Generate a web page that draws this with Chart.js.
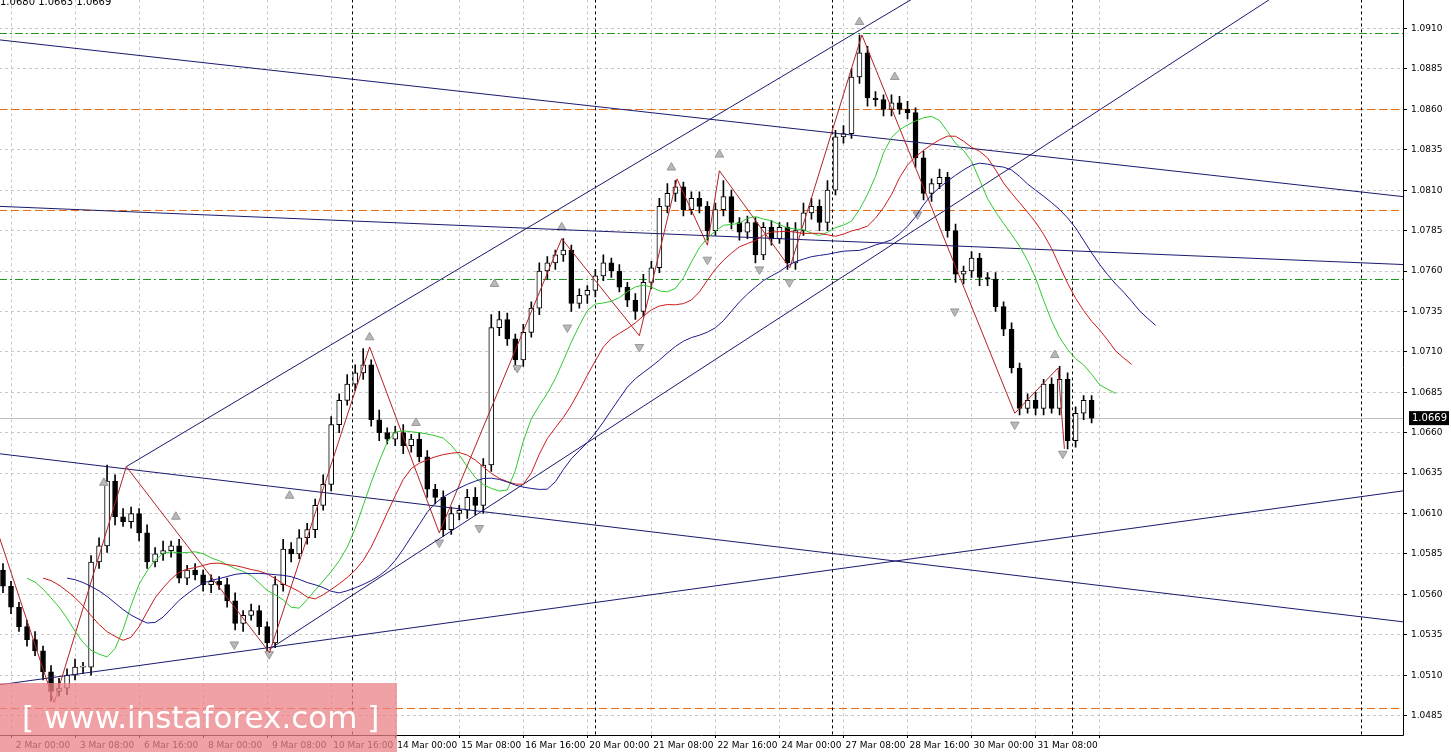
<!DOCTYPE html>
<html>
<head>
<meta charset="utf-8">
<script src="https://cdn.jsdelivr.net/npm/chart.js@4.4.1/dist/chart.umd.min.js"></script>
<style>
    body { margin: 0; background: #fff; overflow: hidden; }
    #wrap { position: relative; width: 1451px; height: 752px; overflow: hidden; }
    #chart { position: absolute; left: -7px; top: -10px; }
    #topText { position: absolute; left: 0; top: -4px; font: 10px "DejaVu Sans", sans-serif; color: #000; }
    #mark { position: absolute; left: 0; top: 683px; width: 397px; height: 69px; background: rgba(235,130,135,0.75);
            color: #fff; font: 31px "DejaVu Sans", sans-serif; line-height: 69px; padding-left: 22px; box-sizing: border-box; }
</style>
</head>
<body>
<div id="wrap">
    <canvas id="chart" width="1458" height="762"></canvas>
    <div id="topText">1.0680 1.0663 1.0669</div>
    <div id="mark">[ www.instaforex.com ]</div>
</div>
<script>
// H4 closes
const closes = [
    1.0565, 1.0552, 1.0540, 1.0532, 1.0525, 1.0512, 1.0500, 1.0502, 1.0510, 1.0515,
    1.0515, 1.0580, 1.0590, 1.0630, 1.0608, 1.0605, 1.0610, 1.0598, 1.0580, 1.0585,
    1.0587, 1.0590, 1.0570, 1.0575, 1.0572, 1.0566, 1.0568, 1.0566, 1.0556, 1.0542,
    1.0547, 1.0550, 1.0540, 1.0530, 1.0566, 1.0588, 1.0585, 1.0595, 1.0600, 1.0615,
    1.0628, 1.0665, 1.0680, 1.0690, 1.0697, 1.0702, 1.0668, 1.0660, 1.0656, 1.0660,
    1.0652, 1.0656, 1.0645, 1.0625, 1.0620, 1.0600, 1.0610, 1.0612, 1.0620, 1.0615,
    1.0640, 1.0725, 1.0730, 1.0718, 1.0705, 1.0722, 1.0737, 1.0760, 1.0765, 1.0770,
    1.0773, 1.0740, 1.0745, 1.0748, 1.0757, 1.0765, 1.0760, 1.0750, 1.0742, 1.0735,
    1.0753, 1.0762, 1.0800, 1.0808, 1.0812, 1.0798, 1.0805, 1.0800, 1.0785, 1.0798,
    1.0806, 1.0790, 1.0784, 1.0790, 1.0770, 1.0787, 1.0780, 1.0787, 1.0765, 1.0785,
    1.0796, 1.0800, 1.0790, 1.0810, 1.0843, 1.0845, 1.0880, 1.0895, 1.0867, 1.0866,
    1.0860, 1.0864, 1.0860, 1.0858, 1.0830, 1.0808, 1.0814, 1.0818, 1.0785, 1.0758,
    1.0760, 1.0768, 1.0756, 1.0755, 1.0738, 1.0724, 1.0700, 1.0675, 1.0680, 1.0675,
    1.0690, 1.0675, 1.0693, 1.0655, 1.0672, 1.0680, 1.0669
];
const firstOpen = 1.0575;
// wick sizes in pips above / below the body
const wickUp = [
    4, 3, 3, 4, 5, 3, 4, 6, 4, 5, 3, 4, 5, 10, 4, 5, 4, 3, 5, 4,
    6, 3, 4, 3, 4, 3, 4, 3, 4, 5, 3, 4, 3, 3, 5, 6, 4, 5, 4, 4,
    6, 5, 4, 6, 5, 10, 3, 6, 3, 4, 5, 3, 4, 4, 3, 4, 4, 3, 5, 6,
    4, 8, 5, 4, 3, 5, 4, 5, 4, 3, 7, 3, 4, 3, 4, 5, 3, 4, 3, 4,
    5, 4, 5, 6, 4, 3, 4, 4, 3, 4, 10, 4, 3, 4, 3, 3, 4, 3, 3, 5,
    6, 5, 4, 6, 4, 5, 5, 11, 4, 4, 3, 5, 4, 5, 3, 4, 3, 5, 3, 4,
    3, 4, 3, 3, 4, 3, 4, 3, 4, 5, 3, 4, 8, 4, 4, 3, 3
];
const wickDn = [
    4, 4, 3, 4, 3, 5, 6, 3, 4, 3, 4, 5, 4, 4, 5, 3, 4, 5, 4, 3,
    4, 4, 3, 4, 3, 4, 5, 3, 4, 4, 5, 3, 5, 5, 3, 4, 5, 3, 4, 5,
    3, 4, 5, 3, 4, 4, 4, 5, 3, 4, 5, 4, 3, 5, 4, 4, 3, 4, 5, 6,
    5, 4, 5, 4, 6, 4, 3, 4, 5, 4, 4, 5, 3, 5, 4, 3, 4, 3, 4, 5,
    3, 4, 3, 4, 5, 4, 3, 4, 6, 3, 4, 4, 5, 4, 5, 3, 4, 3, 4, 4,
    3, 4, 5, 5, 3, 4, 3, 4, 5, 4, 4, 4, 3, 4, 6, 4, 5, 3, 4, 5,
    6, 4, 5, 4, 3, 4, 3, 4, 3, 4, 4, 3, 4, 5, 4, 4, 3
];
const timeLabels = ['2 Mar 00:00', '3 Mar 08:00', '6 Mar 16:00', '8 Mar 00:00', '9 Mar 08:00', '10 Mar 16:00',
    '14 Mar 00:00', '15 Mar 08:00', '16 Mar 16:00', '20 Mar 00:00', '21 Mar 08:00', '22 Mar 16:00',
    '24 Mar 00:00', '27 Mar 08:00', '28 Mar 16:00', '30 Mar 00:00', '31 Mar 08:00'];
const priceTicks = [1.0485, 1.0510, 1.0535, 1.0560, 1.0585, 1.0610, 1.0635, 1.0660, 1.0685, 1.0710,
    1.0735, 1.0760, 1.0785, 1.0810, 1.0835, 1.0860, 1.0885, 1.0910];
const weekSeparators = [43.6, 73.9, 103.6, 133.6, 169.7];
const levels = [
    { price: 1.0907, color: '#1f9a1f', dash: [8, 3, 2, 3] },
    { price: 1.0860, color: '#f06a10', dash: [8, 4] },
    { price: 1.0798, color: '#f06a10', dash: [8, 4] },
    { price: 1.0755, color: '#1f9a1f', dash: [8, 3, 2, 3] },
    { price: 1.0490, color: '#f06a10', dash: [8, 4] }
];
const trendLines = [
    [[15.4, 1.0639], [113.5, 1.0928]],
    [[33.25, 1.0526], [158.25, 1.0928]],
    [[-0.5, 1.0903], [174.9, 1.0806]],
    [[-0.5, 1.0800], [174.9, 1.0764]],
    [[-0.5, 1.0647], [174.9, 1.0543]],
    [[-0.5, 1.0504], [174.9, 1.0624]]
];
const zigzag = [
    [-0.5, 1.0596], [6.4, 1.0493], [15.4, 1.0639], [33.3, 1.0524], [45.8, 1.0713], [54.5, 1.0598],
    [69.8, 1.0780], [79.5, 1.0720], [84.2, 1.0817], [88.0, 1.0776], [89.5, 1.0822], [98.3, 1.0762],
    [107.3, 1.0906], [126.4, 1.0672], [131.8, 1.0700], [132.6, 1.0650]
];
const fractalUp = [
    [12.6, 1.0629], [21.6, 1.0608], [35.8, 1.0621], [45.8, 1.0719], [51.6, 1.0666], [61.4, 1.0752],
    [69.8, 1.0787], [83.5, 1.0824], [89.5, 1.0832], [107, 1.0914], [111.4, 1.0880], [131.4, 1.0708]
];
const fractalDown = [
    [28.9, 1.0529], [33.25, 1.0523], [54.5, 1.0592], [59.5, 1.0601], [64.25, 1.0700], [70.5, 1.0725],
    [79.5, 1.0713], [88, 1.0767], [94.5, 1.0761], [98.25, 1.0753], [114.25, 1.0795], [118.9, 1.0735],
    [126.4, 1.0665], [132.4, 1.0647]
];

const opens = closes.map((c, i) => i === 0 ? firstOpen : closes[i - 1]);
const highs = closes.map((c, i) => Math.max(c, opens[i]) + wickUp[i] * 0.0001);
const lows = closes.map((c, i) => Math.min(c, opens[i]) - wickDn[i] * 0.0001);

// smoothed moving average of median price, shifted forward (alligator)
function smma(period, shift) {
    const out = [];
    let v = null;
    closes.forEach((c, i) => {
        const m = (highs[i] + lows[i]) / 2;
        v = v === null ? m : (v * (period - 1) + m) / period;
        out.push({ x: i + shift, y: v });
    });
    return out;
}

const bodies = closes.map((c, i) => {
    let a = opens[i], b = c;
    if (Math.abs(a - b) < 0.00006) b = a + 0.00006;
    return { x: i, y: [a, b] };
});
const wicks = closes.map((c, i) => ({ x: i, y: [lows[i], highs[i]] }));
const bull = closes.map((c, i) => c >= opens[i]);
const pts = arr => arr.map(p => ({ x: p[0], y: p[1] }));

const yMin = 1.0473, yMax = 1.0928;
const xMin = -0.5, xMax = 174.9;

const overlayPlugin = {
    id: 'overlay',
    beforeDatasetsDraw(chart) {
        const { ctx, chartArea: a, scales: { x, y } } = chart;
        ctx.save();
        ctx.lineWidth = 1;
        levels.forEach(l => {
            const py = Math.round(y.getPixelForValue(l.price)) + 0.5;
            ctx.strokeStyle = l.color;
            ctx.setLineDash(l.dash);
            ctx.beginPath(); ctx.moveTo(a.left, py); ctx.lineTo(a.right, py); ctx.stroke();
        });
        ctx.strokeStyle = '#000';
        ctx.setLineDash([3, 3]);
        weekSeparators.forEach(w => {
            const px = Math.round(x.getPixelForValue(w)) + 0.5;
            ctx.beginPath(); ctx.moveTo(px, a.top); ctx.lineTo(px, a.bottom); ctx.stroke();
        });
        ctx.setLineDash([]);
        ctx.strokeStyle = '#c0c0c0';
        const cy = Math.round(y.getPixelForValue(closes[closes.length - 1])) + 0.5;
        ctx.beginPath(); ctx.moveTo(a.left, cy); ctx.lineTo(a.right, cy); ctx.stroke();
        ctx.restore();
    },
    afterDraw(chart) {
        const { ctx, chartArea: a, scales: { y } } = chart;
        const last = closes[closes.length - 1];
        const py = y.getPixelForValue(last);
        ctx.save();
        ctx.fillStyle = '#000';
        ctx.fillRect(a.right + 6, py - 7, 40, 14);
        ctx.fillStyle = '#fff';
        ctx.font = '10px "DejaVu Sans"';
        ctx.textBaseline = 'middle';
        ctx.fillText(last.toFixed(4), a.right + 9, py);
        ctx.strokeStyle = '#000';
        ctx.beginPath();
        ctx.moveTo(a.right + 0.5, a.top); ctx.lineTo(a.right + 0.5, a.bottom + 0.5); ctx.lineTo(a.left, a.bottom + 0.5);
        ctx.stroke();
        ctx.restore();
    }
};

const lineDs = (data, color, width) => ({
    type: 'line', data, borderColor: color, borderWidth: width || 1, pointRadius: 0, fill: false, tension: 0
});

const datasets = [
    {
        type: 'bar', data: wicks, backgroundColor: '#000', barThickness: 1, grouped: false, order: 2
    },
    {
        type: 'bar', data: bodies, grouped: false, barThickness: 5, order: 1,
        backgroundColor: bull.map(b => b ? '#fff' : '#000'), borderColor: '#000', borderWidth: 1, borderSkipped: false
    },
    lineDs(smma(13, 8), '#1a1a8c'),
    lineDs(smma(8, 5), '#cc1a1a'),
    lineDs(smma(5, 3), '#2fc82f'),
    lineDs(pts(zigzag), '#b22222'),
    ...trendLines.map(t => lineDs(pts(t), '#1a1a6e')),
    {
        type: 'scatter', data: pts(fractalUp), pointStyle: 'triangle', pointRadius: 5,
        backgroundColor: '#b8b8b8', borderColor: '#999', borderWidth: 1
    },
    {
        type: 'scatter', data: pts(fractalDown), pointStyle: 'triangle', rotation: 180, pointRadius: 5,
        backgroundColor: '#b8b8b8', borderColor: '#999', borderWidth: 1
    }
];

new Chart(document.getElementById('chart'), {
    data: { datasets },
    plugins: [overlayPlugin],
    options: {
        responsive: false,
        animation: false,
        events: [],
        layout: { padding: 0 },
        plugins: { legend: { display: false }, tooltip: { enabled: false } },
        scales: {
            x: {
                type: 'linear', min: xMin, max: xMax, offset: false,
                afterFit: s => { s.height = 17; },
                afterBuildTicks: s => { s.ticks = timeLabels.map((t, k) => ({ value: 5 + 8 * k, label: t })); },
                ticks: {
                    autoSkip: false, maxRotation: 0, color: '#000', padding: 2,
                    font: { family: 'DejaVu Sans', size: 9 },
                    callback: (v, i) => timeLabels[i]
                },
                grid: { color: '#c8c8c8', drawTicks: true, tickLength: 3, tickColor: '#000' },
                border: { display: false, dash: [3, 3] }
            },
            y: {
                position: 'right', min: yMin, max: yMax,
                afterFit: s => { s.width = 48; },
                afterBuildTicks: s => { s.ticks = priceTicks.map(v => ({ value: v })); },
                ticks: {
                    color: '#000', padding: 4, font: { family: 'DejaVu Sans', size: 9 },
                    callback: v => v.toFixed(4)
                },
                grid: { color: '#c8c8c8', tickLength: 4, tickColor: '#000' },
                border: { display: false, dash: [3, 3] }
            }
        }
    }
});
</script>
</body>
</html>
